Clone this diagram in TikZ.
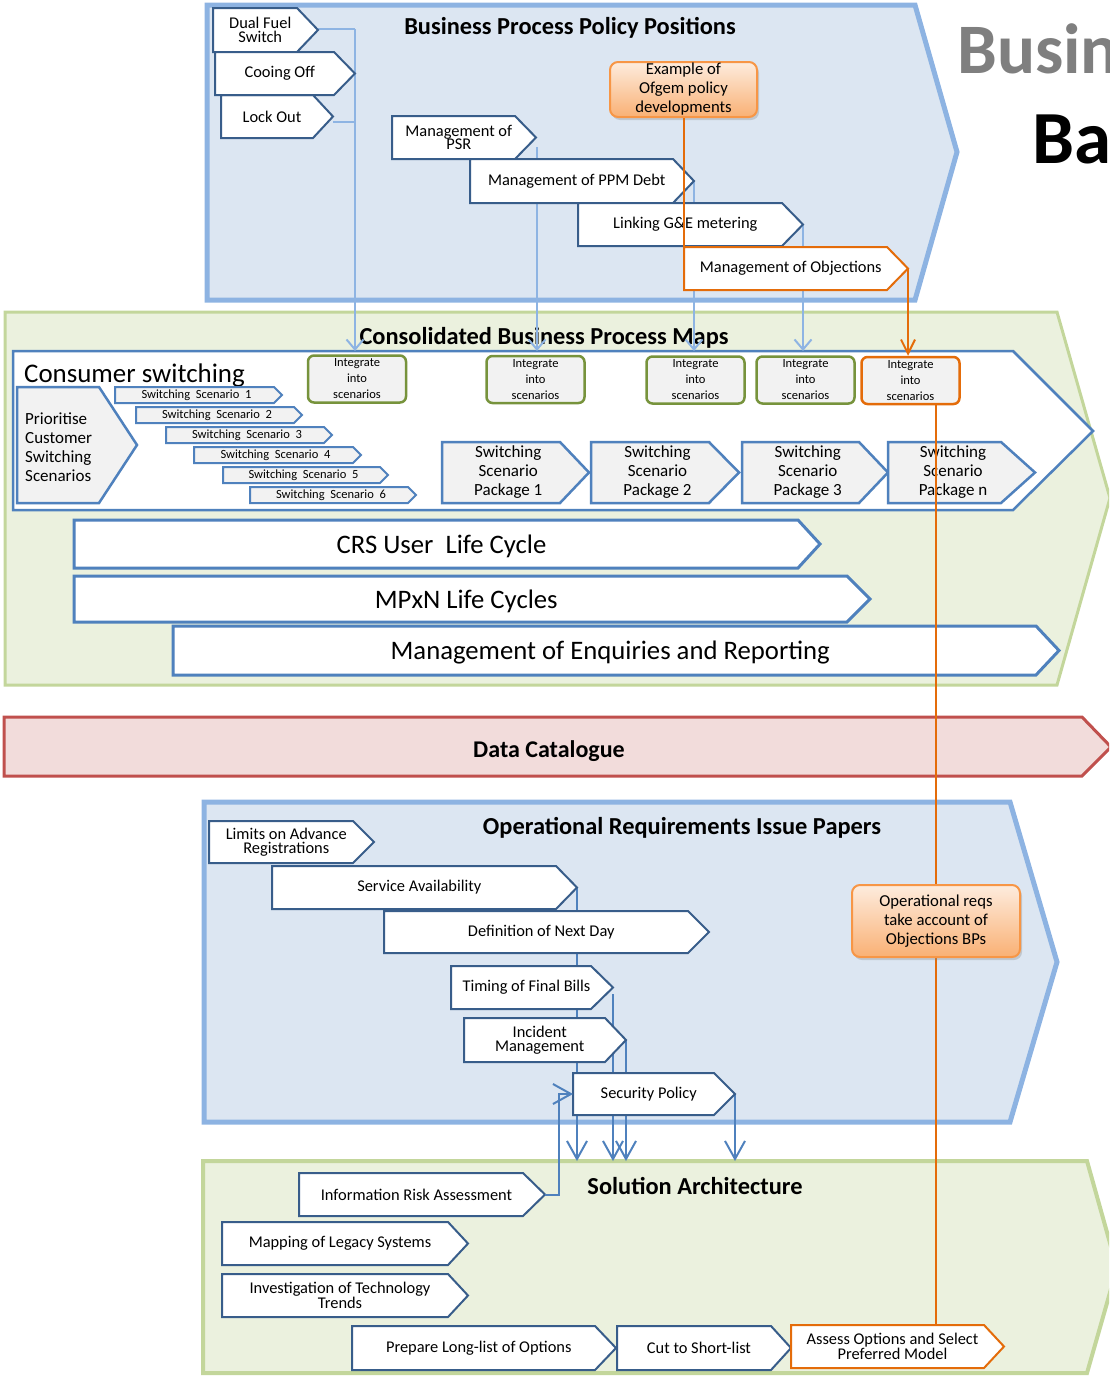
\documentclass[tikz,border=0pt]{standalone}
\usepackage{fontspec}
\setmainfont{Carlito}
\usepackage{tikz}
\usetikzlibrary{arrows.meta,shadows}

\definecolor{bpfill}{HTML}{DCE6F2}
\definecolor{bpline}{HTML}{8DB3E2}
\definecolor{cbfill}{HTML}{EBF1DE}
\definecolor{cbline}{HTML}{C3D69B}
\definecolor{dcfill}{HTML}{F2DCDB}
\definecolor{dcline}{HTML}{C0504D}
\definecolor{chevdark}{HTML}{385D8A}
\definecolor{chevblue}{HTML}{4F81BD}
\definecolor{ofgline}{HTML}{E46C0A}
\definecolor{ofgbox}{HTML}{F79646}
\definecolor{intgline}{HTML}{77933C}
\definecolor{boxgray}{HTML}{F2F2F2}
\definecolor{linkblue}{HTML}{8EB4E3}
\definecolor{bigtxt}{HTML}{7F7F7F}

\tikzset{
  chev/.style={draw=chevdark,fill=white,line width=2pt},
  gchev/.style={draw=chevblue,fill=boxgray,line width=2.5pt},
  wchev/.style={draw=chevblue,fill=white,line width=3pt},
  orchev/.style={draw=ofgline,fill=white,line width=2pt},
  chevtxt/.style={align=center,inner sep=0pt,font=\fontsize{16.4}{13.5}\selectfont},
  bplane/.style={draw=bpline,fill=bpfill,line width=5pt},
  cblane/.style={draw=cbline,fill=cbfill,line width=3pt},
  lanetitle/.style={anchor=base,inner sep=0pt,font=\bfseries\fontsize{24.4}{28}\selectfont},
  intg/.style={draw=intgline,fill=boxgray,line width=2.5pt,rounded corners=6pt,
    minimum width=98pt,minimum height=47pt,align=center,inner sep=0pt,
    font=\fontsize{12.5}{16}\selectfont},
  ofg/.style={draw=ofgbox,line width=2pt,rounded corners=8pt,
    top color=ofgbox!18,bottom color=ofgbox!75,
    drop shadow={opacity=0.3,shadow xshift=2pt,shadow yshift=-3pt},
    align=center,inner sep=0pt,font=\fontsize{16.7}{19}\selectfont},
  lnk/.style={draw=linkblue,line width=2pt},
  conn/.style={draw=chevblue,line width=2pt},
  orln/.style={draw=ofgline,line width=2pt},
}

% chevron: name, x1, y1, tip x, y2, tip depth, text
\newcommand{\chevbox}[8][]{%
  \draw[chev,#1] (#3,#4) coordinate (#2 nw) -- ({#5-#7},#4) -- (#5,{(#4+#6)/2}) coordinate (#2 tip)
    -- ({#5-#7},#6) -- (#3,#6) -- cycle;
  \coordinate (#2 w) at (#3,{(#4+#6)/2});
  \node[chevtxt] (#2) at ({(#3+#5-#7/2)/2},{(#4+#6)/2}) {#8};
}

\begin{document}
\begin{tikzpicture}[x=1pt,y=1pt,yscale=-1]
\useasboundingbox (0,0) rectangle (1109,1376);
\clip (0,0) rectangle (1109,1376);

%Lanes
\draw[bplane] (207,5) -- (915,5) -- (957,152) -- (915,300) -- (207,300) -- cycle;
\draw[cblane] (5,312) -- (1057,312) -- (1110,498) -- (1057,685) -- (5,685) -- cycle;
\draw[draw=dcline,fill=dcfill,line width=3pt] (4,717) -- (1082,717) -- (1111,747) -- (1082,776) -- (4,776) -- cycle;
\draw[bplane] (204,802) -- (1010,802) -- (1057,962) -- (1010,1122) -- (204,1122) -- cycle;
\draw[cblane,line width=4pt] (203,1161) coordinate (sa nw) -- (1087,1161) -- (1117,1268) -- (1087,1373) -- (203,1373) -- cycle;
\draw[draw=chevblue,fill=white,line width=2.5pt] (13,351) coordinate (cs nw) -- (1013,351) -- (1093,431) -- (1013,510) -- (13,510) -- cycle;

\node[lanetitle] (bpptitle) at (570,34) {Business Process Policy Positions};
\node[lanetitle] (cbpmtitle) at (544,344) {Consolidated Business Process Maps};
\node[lanetitle,font=\bfseries\fontsize{24}{28}\selectfont] (dctitle) at (549,757) {Data Catalogue};
\node[lanetitle] (oriptitle) at (682,834) {Operational Requirements Issue Papers};
\node[lanetitle] (satitle) at (695,1194) {Solution Architecture};
\node[anchor=base west,inner sep=0pt,text=bigtxt,font=\bfseries\fontsize{71}{80}\selectfont] (busin) at (957,73) {Busin};
\node[anchor=base west,inner sep=0pt,font=\bfseries\fontsize{75}{84}\selectfont] (ba) at (1032,163) {Ba};

%Policy positions
\draw[lnk] (318,29) coordinate (dfs end) -- (355,29) coordinate (dfsbus);
\draw[lnk,-{Straight Barb[length=10pt,width=17pt]}] (dfsbus) -- (dfsbus |- cs nw);
\draw[lnk] (333,122) coordinate (lock end) -- (lock end -| dfsbus);
\draw[lnk,-{Straight Barb[length=10pt,width=17pt]}] (537,147) coordinate (psr bus) -- (psr bus |- cs nw);
\draw[lnk,-{Straight Barb[length=10pt,width=17pt]}] (694,181) coordinate (ppm bus) -- (ppm bus |- cs nw);
\draw[lnk,-{Straight Barb[length=10pt,width=17pt]}] (803,225) coordinate (gem bus) -- (gem bus |- cs nw);

\chevbox{dfs}{213}{8}{318}{52}{21}{Dual Fuel\\Switch}
\chevbox{lock}{221}{95}{333}{138}{20}{Lock Out}
\chevbox{cool}{215}{52}{355}{95}{21}{Cooing Off}
\chevbox{psr}{392}{116}{536}{159}{21}{Management of\\PSR}
\chevbox{ppm}{470}{159}{694}{203}{21}{Management of PPM Debt}
\chevbox{gem}{578}{203}{803}{246}{21}{Linking G\&E metering}

\node[ofg,minimum width=147pt,minimum height=55pt] (ofgem) at (683.5,89.5) {Example of\\Ofgem policy\\developments};
\draw[orln] (ofgem.south) -- (ofgem.south |- 0,267);
\chevbox[orchev]{objs}{684}{247}{908}{290}{21}{Management of Objections}

%Consolidated maps
\node[anchor=base west,inner sep=0pt,font=\fontsize{26.9}{30}\selectfont] (cstitle) at (24,382) {Consumer switching};
\draw[gchev] (17,387) -- (99,387) -- (137,445) -- (99,503) -- (17,503) -- cycle;
\node[anchor=north west,align=left,inner sep=0pt,font=\fontsize{17}{19}\selectfont] (prio) at (25,413) {Prioritise\\Customer\\Switching\\Scenarios};
\begin{scope}[chevtxt/.append style={font=\fontsize{12.5}{14}\selectfont}]
\chevbox[gchev,line width=2pt]{sc1}{115}{387}{282}{403}{8}{Switching\ \ Scenario\ \ 1}
\chevbox[gchev,line width=2pt]{sc2}{136}{407}{302}{423}{8}{Switching\ \ Scenario\ \ 2}
\chevbox[gchev,line width=2pt]{sc3}{166}{427}{332}{443}{8}{Switching\ \ Scenario\ \ 3}
\chevbox[gchev,line width=2pt]{sc4}{194}{447}{361}{463}{8}{Switching\ \ Scenario\ \ 4}
\chevbox[gchev,line width=2pt]{sc5}{223}{467}{388}{483}{8}{Switching\ \ Scenario\ \ 5}
\chevbox[gchev,line width=2pt]{sc6}{250}{487}{416}{503}{8}{Switching\ \ Scenario\ \ 6}
\end{scope}

\node[intg] (i1) at (357,379) {Integrate\\into\\scenarios};
\node[intg] (i2) at (535.5,379.5) {Integrate\\into\\scenarios};
\node[intg] (i3) at (695.5,380) {Integrate\\into\\scenarios};
\node[intg] (i4) at (805.5,380) {Integrate\\into\\scenarios};
\node[intg,draw=ofgline] (i5) at (910.5,380.5) {Integrate\\into\\scenarios};
\draw[orln,-{Straight Barb[length=14pt,width=14pt]}] (objs tip) -- (objs tip |- i5.north);

\begin{scope}[chevtxt/.append style={font=\fontsize{17}{19}\selectfont}]
\chevbox[gchev]{pk1}{442}{442}{589}{503}{29}{Switching\\Scenario\\Package 1}
\chevbox[gchev]{pk2}{591}{442}{739}{503}{30}{Switching\\Scenario\\Package 2}
\chevbox[gchev]{pk3}{742}{442}{888}{503}{29}{Switching\\Scenario\\Package 3}
\chevbox[gchev]{pkn}{888}{442}{1035}{503}{34}{Switching\\Scenario\\Package n}
\end{scope}

\begin{scope}[chevtxt/.append style={font=\fontsize{26.7}{30}\selectfont,text depth=0pt}]
\chevbox[wchev]{crs}{74}{520}{820}{568}{22}{CRS User\ \ Life Cycle}
\chevbox[wchev]{mpxn}{74}{576}{870}{622}{23}{MPxN Life Cycles}
\chevbox[wchev]{enq}{173}{626}{1059}{675}{23}{Management of Enquiries and Reporting}
\end{scope}

%Operational requirements
\draw[conn,-{Straight Barb[length=18pt,width=20pt]}] (577,888) coordinate (sav bus) -- (sav bus |- sa nw);
\draw[conn,-{Straight Barb[length=18pt,width=20pt]}] (613,994) coordinate (fbill bus) -- (fbill bus |- sa nw);
\draw[conn,-{Straight Barb[length=18pt,width=20pt]}] (626,1040) coordinate (inc bus) -- (inc bus |- sa nw);
\draw[conn,-{Straight Barb[length=18pt,width=20pt]}] (735,1094) coordinate (secp bus) -- (secp bus |- sa nw);

\chevbox{lim}{209}{821}{374}{863}{21}{Limits on Advance\\Registrations}
\chevbox{sav}{272}{866}{577}{909}{21}{Service Availability}
\chevbox{nday}{384}{911}{709}{953}{21}{Definition of Next Day}
\chevbox{fbill}{451}{966}{613}{1009}{22}{Timing of Final Bills}
\chevbox{inc}{464}{1018}{626}{1062}{21}{Incident\\Management}
\chevbox{secp}{573}{1073}{735}{1115}{21}{Security Policy}

%Solution architecture
\chevbox{ira}{299}{1173}{545}{1216}{22}{Information Risk Assessment}
\draw[conn,-{Straight Barb[length=18pt,width=20pt]}] (ira tip) -- ++(14,0) |- (secp w);
\chevbox{leg}{222}{1222}{468}{1265}{20}{Mapping of Legacy Systems}
\chevbox{tech}{222}{1274}{468}{1317}{20}{Investigation of Technology\\Trends}
\chevbox{llist}{352}{1326}{616}{1370}{21}{Prepare Long-list of Options}
\chevbox{slist}{617}{1326}{791}{1370}{20}{Cut to Short-list}

\draw[orln] (i5.south -| 936,0) coordinate (obj bus) -- (obj bus |- 0,1325);
\node[ofg,minimum width=168pt,minimum height=72pt] (opreq) at (936,921) {Operational reqs\\take account of\\Objections BPs};
\chevbox[orchev]{assess}{791}{1325}{1004}{1368}{20}{Assess Options and Select\\Preferred Model}
\end{tikzpicture}
\end{document}
